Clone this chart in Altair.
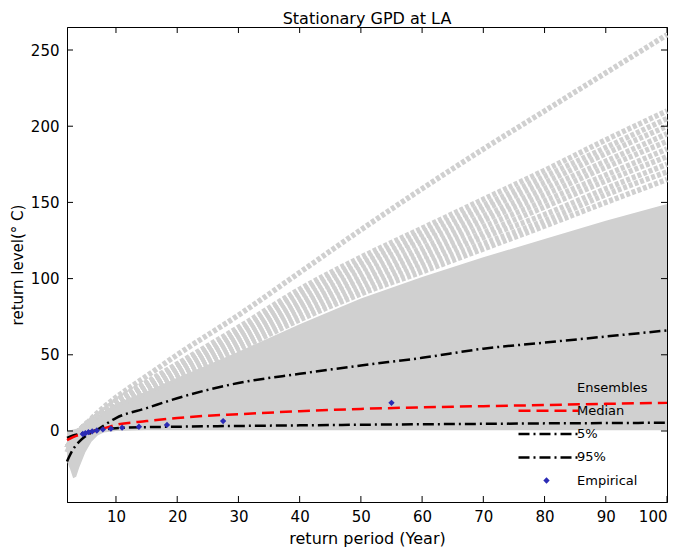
import altair as alt
import pandas as pd

# ---------------- data ----------------
ENS_T = [2, 3, 4, 5, 7, 10, 15, 20, 30, 40, 50, 60, 70, 80, 90, 100]
ENS_MEMBERS = [
    [-14, -6, 0, 4, 12, 22, 36, 50, 76, 104, 132, 159, 185, 210, 235, 260],
    [-11, -5, 0, 4, 10, 20, 32, 44, 68, 93, 114, 133, 152, 171, 191, 210],
    [-11, -5, 0, 4, 10, 19.5, 31, 43, 66, 91, 111, 130, 148, 167, 186, 205],
    [-11, -5, 0, 4, 10, 19, 30.5, 42, 65, 89, 109, 127, 145, 163, 182, 200],
    [-11, -5, 0, 4, 10, 18.5, 30, 41, 63, 86, 106, 124, 141, 159, 177, 195],
    [-11, -5, 0, 4, 10, 18, 29, 40, 61.5, 84, 103, 120, 138, 155, 173, 190],
    [-11, -5, 0, 4, 10, 17.5, 28, 39, 60, 82, 100, 117, 134, 151, 168, 185],
    [-11, -5, 0, 4, 10, 17, 27.5, 37.5, 58, 80, 98, 114, 130, 147, 164, 180],
    [-11, -5, 0, 4, 10, 16.5, 26.5, 36.5, 56.5, 77.5, 95, 111, 127, 142, 159, 175],
    [-11, -5, 0, 4, 10, 16, 26, 35.5, 55, 75, 92, 108, 123, 138, 155, 170],
    [-11, -5, 0, 4, 10, 15.5, 25, 34.5, 53.5, 73, 90, 104.5, 119.5, 134.5, 150, 165],
]

AREA_T = [2, 2.5, 3, 3.5, 4, 5, 6, 7, 8, 10, 15, 20, 30, 40, 50, 60, 70, 80, 90, 100]
AREA_LO = [-20, -25, -31, -30, -24, -14, -7, -3, -1, 0, 0.5, 0.5, 0.5, 0.5, 0.5, 0.5, 0.5, 0.5, 0.5, 0.5]
AREA_HI = [0, 0.5, 1, 1.5, 2, 4, 7, 10, 13, 18, 26, 35, 52, 70, 87, 101, 114, 126, 138, 149]

Q_T = [2, 3, 4, 5, 7, 10, 15, 20, 25, 30, 40, 50, 60, 70, 80, 90, 100]
Q95 = [-20, -12, -7, -3.5, 1, 8.5, 15, 21.5, 27, 31.5, 37.5, 43, 48, 54, 58, 62, 66]
MEDIAN = [-6, -4, -2.5, -1.5, 0.5, 4, 6.5, 8.5, 10, 11, 13, 14.5, 15.5, 16.3, 17, 17.8, 18.5]
Q05 = [-4.5, -3, -2, -1, 0.5, 1.8, 2.5, 2.8, 3.1, 3.3, 3.7, 4.1, 4.4, 4.7, 5, 5.2, 5.4]

EMP_T = [55, 27.5, 18.33, 13.75, 11, 9.17, 7.86, 6.875, 6.11, 5.5, 5.0, 4.58]
EMP_V = [18.5, 6.5, 4, 2.8, 2.2, 1.5, 1, 0.3, -0.3, -0.8, -1.5, -2]

X_TICKS = [10, 20, 30, 40, 50, 60, 70, 80, 90, 100]
Y_TICKS = [0, 50, 100, 150, 200, 250]

SERIES = ["Ensembles", "Median", "5%", "95%"]

# ---------------- tables ----------------
ens_rows = []
for i, vals in enumerate(ENS_MEMBERS):
    for t, v in zip(ENS_T, vals):
        ens_rows.append({"member": i, "T": t, "v": v, "series": "Ensembles"})
ens_df = pd.DataFrame(ens_rows)

area_df = pd.DataFrame({"T": AREA_T, "lo": AREA_LO, "hi": AREA_HI})

q_rows = []
for name, vals in [("95%", Q95), ("5%", Q05), ("Median", MEDIAN)]:
    for t, v in zip(Q_T, vals):
        q_rows.append({"series": name, "T": t, "v": v})
q_df = pd.DataFrame(q_rows)

emp_df = pd.DataFrame({"T": EMP_T, "v": EMP_V, "lab": ["Empirical"] * len(EMP_T)})
xt_df = pd.DataFrame({"t": X_TICKS})
yt_df = pd.DataFrame({"t": Y_TICKS})

W, H = 600, 475
FONT = "DejaVu Sans"
GREY = "#d0d0d0"

xs = alt.Scale(domain=[2, 100], nice=False, zero=False)
ys = alt.Scale(domain=[-46.6, 265.1], nice=False, zero=False)

color_scale = alt.Scale(domain=SERIES, range=[GREY, "#ff0000", "#000000", "#000000"])
dash_scale = alt.Scale(domain=SERIES, range=[[4, 2], [12, 6], [11, 4, 2, 4], [11, 4, 2, 4]])

line_legend = alt.Legend(
    title=None, orient="none", legendX=475, legendY=354,
    symbolType="M-6,0H6", symbolSize=100, symbolStrokeWidth=2.5,
    labelFontSize=13, labelFont=FONT, labelColor="#000000",
    rowPadding=9.3, labelOffset=22, padding=0,
)

x_enc = alt.X("T:Q", scale=xs, title="return period (Year)",
              axis=alt.Axis(values=X_TICKS, ticks=False, grid=False, labelPadding=7,
                            titlePadding=6))
y_enc = alt.Y("v:Q", scale=ys, title="return level(° C)",
              axis=alt.Axis(values=Y_TICKS, ticks=False, grid=False, labelPadding=8,
                            titlePadding=5, titleFontSize=15))

area = alt.Chart(area_df).mark_area(color=GREY, opacity=1).encode(
    x=alt.X("T:Q", scale=xs, title="return period (Year)"),
    y=alt.Y("lo:Q", scale=ys, title="return level(° C)"),
    y2="hi:Q",
)

ens = alt.Chart(ens_df).mark_line(strokeWidth=5.5, strokeCap="butt", interpolate="monotone").encode(
    x=x_enc, y=y_enc,
    detail="member:N",
    color=alt.Color("series:N", scale=color_scale, legend=line_legend),
    strokeDash=alt.StrokeDash("series:N", scale=dash_scale, legend=line_legend),
)

qlines = alt.Chart(q_df).mark_line(strokeWidth=2.5, interpolate="monotone").encode(
    x=x_enc, y=y_enc,
    color=alt.Color("series:N", scale=color_scale, legend=line_legend),
    strokeDash=alt.StrokeDash("series:N", scale=dash_scale, legend=line_legend),
)

emp = alt.Chart(emp_df).mark_point(shape="diamond", filled=True, size=40, opacity=1).encode(
    x=x_enc, y=y_enc,
    fill=alt.Fill("lab:N", scale=alt.Scale(domain=["Empirical"], range=["#2b2bb5"]),
                  legend=alt.Legend(title=None, orient="none", legendX=473, legendY=447,
                                    symbolType="diamond", symbolSize=40, labelFontSize=13,
                                    labelFont=FONT, labelColor="#000000", labelOffset=24,
                                    padding=0, symbolStrokeWidth=0)),
)

tick_bottom = alt.Chart(xt_df).mark_rule(color="black", strokeWidth=1).encode(
    x=alt.X("t:Q", scale=xs), y=alt.value(H), y2=alt.value(H - 6))
tick_top = alt.Chart(xt_df).mark_rule(color="black", strokeWidth=1).encode(
    x=alt.X("t:Q", scale=xs), y=alt.value(0), y2=alt.value(6))
tick_left = alt.Chart(yt_df).mark_rule(color="black", strokeWidth=1).encode(
    y=alt.Y("t:Q", scale=ys), x=alt.value(0), x2=alt.value(6))
tick_right = alt.Chart(yt_df).mark_rule(color="black", strokeWidth=1).encode(
    y=alt.Y("t:Q", scale=ys), x=alt.value(W), x2=alt.value(W - 6))

chart = alt.layer(area, ens, qlines, emp, tick_bottom, tick_top, tick_left, tick_right).properties(
    width=W, height=H,
    title=alt.TitleParams("Stationary GPD at LA", fontSize=16, font=FONT, fontWeight="normal",
                          color="#000000", offset=-3),
    autosize=alt.AutoSizeParams(type="none"),
    padding={"left": 59, "top": 19, "right": 10, "bottom": 50},
).configure_view(
    stroke="#000000", strokeWidth=1
).configure_axis(
    labelFont=FONT, titleFont=FONT, labelFontSize=15, titleFontSize=16,
    labelColor="#000000", titleColor="#000000", titleFontWeight="normal",
    domainColor="#000000", domainWidth=1,
)

chart.save("out.html", embed_options={"renderer": "svg", "actions": False})
